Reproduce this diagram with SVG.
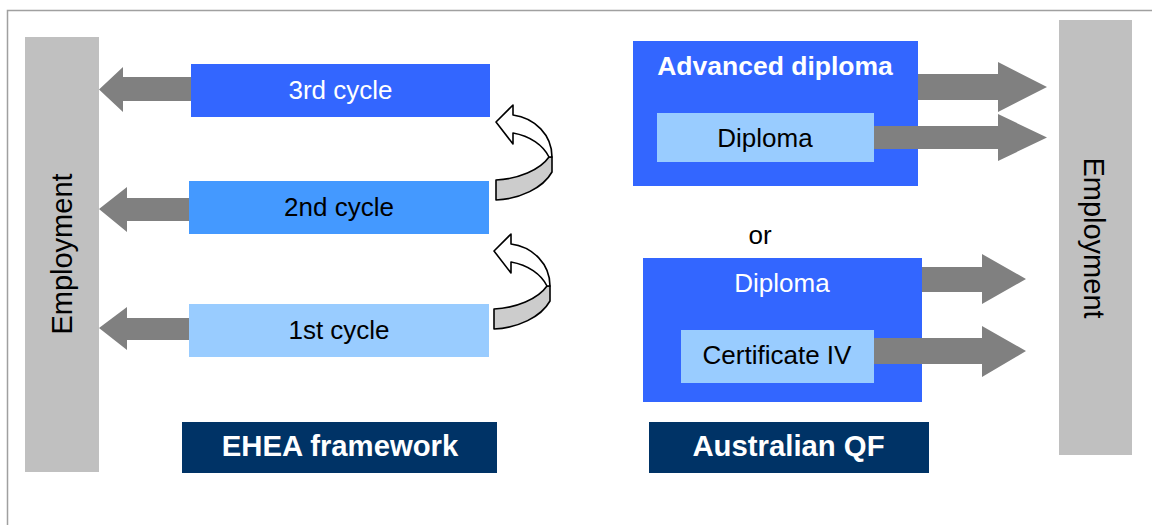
<svg xmlns="http://www.w3.org/2000/svg" width="1152" height="525" viewBox="0 0 1152 525">
<style>
text{font-family:"Liberation Sans",Arial,sans-serif;font-size:26px;text-anchor:middle}
.w{fill:#ffffff}.k{fill:#000000}.b{font-weight:bold}
.emp{fill:#c0c0c0}
.arr{fill:#808080}
.lab{fill:#003366}
.cw{fill:#ffffff;stroke:#000;stroke-width:1.6;stroke-linejoin:round}
.cg{fill:#cccccc;stroke:#000;stroke-width:1.6;stroke-linejoin:round}
</style>
<defs>
<g id="curl">
<path class="cg" d="M496,180 C518,179 540,170 549,157 L552,157 L552,172 C543,188 520,199 496,200 Z"/>
<path class="cw" d="M496,122 L513,105 L513,115 C535,118 552,135 552,157 L549,157 C543,145 530,136 513,133 L513,144 Z"/>
</g>
</defs>
<rect width="1152" height="525" fill="#ffffff"/>
<path d="M7.5,525 L7.5,10.5 L1152,10.5" fill="none" stroke="#a0a0a0" stroke-width="1.5"/>

<g id="employment-left">
<rect class="emp" x="25" y="37" width="74" height="435"/>
<text class="k" transform="translate(72,254) rotate(-90)" style="font-size:29px">Employment</text>
</g>
<g id="employment-right">
<rect class="emp" x="1059" y="20" width="73" height="435"/>
<text class="k" transform="translate(1084,238) rotate(90)" style="font-size:29px">Employment</text>
</g>

<g id="cycle3">
<rect x="191" y="64" width="299" height="53" fill="#3366ff"/>
<text class="w" x="340.5" y="99">3rd cycle</text>
</g>
<g id="cycle2">
<rect x="189" y="181" width="300" height="53" fill="#4499ff"/>
<text class="k" x="339" y="216">2nd cycle</text>
</g>
<g id="cycle1">
<rect x="189" y="304" width="300" height="53" fill="#99ccff"/>
<text class="k" x="339" y="339">1st cycle</text>
</g>

<g id="advanced-diploma">
<rect x="633" y="41" width="285" height="145" fill="#3366ff"/>
<text class="w b" x="775" y="75" style="font-size:26.5px">Advanced diploma</text>
</g>
<g id="diploma-inner">
<rect x="657" y="113" width="217" height="49" fill="#99ccff"/>
<text class="k" x="765" y="147">Diploma</text>
</g>
<g id="or">
<text class="k" x="760" y="244">or</text>
</g>
<g id="diploma">
<rect x="643" y="258" width="279" height="144" fill="#3366ff"/>
<text class="w" x="782" y="292">Diploma</text>
</g>
<g id="certificate-iv">
<rect x="681" y="330" width="193" height="53" fill="#99ccff"/>
<text class="k" x="777" y="364">Certificate IV</text>
</g>

<g id="ehea-label">
<rect class="lab" x="182" y="422" width="315" height="51"/>
<text class="w b" x="340" y="456" style="font-size:29.3px">EHEA framework</text>
</g>
<g id="aqf-label">
<rect class="lab" x="649" y="422" width="280" height="51"/>
<text class="w b" x="788.5" y="456" style="font-size:29.3px">Australian QF</text>
</g>

<g id="connectors">
<polygon class="arr" points="191,77 123,77 123,67 99,89.5 123,112 123,101 191,101"/>
<polygon class="arr" points="189,198 127,198 127,187 99,209 127,232 127,221 189,221"/>
<polygon class="arr" points="189,318 127,318 127,307 99,328 127,350 127,340 189,340"/>
<use href="#curl"/>
<use href="#curl" transform="translate(-2,129)"/>
<polygon class="arr" points="918,74 998,74 998,62 1047,87 998,112 998,100 918,100"/>
<polygon class="arr" points="874,126 998,126 998,114 1047,137.5 998,161 998,149 874,149"/>
<polygon class="arr" points="922,267 982,267 982,254 1026,279 982,304 982,292 922,292"/>
<polygon class="arr" points="874,338 982,338 982,326 1026,351 982,377 982,364 874,364"/>
</g>
</svg>
